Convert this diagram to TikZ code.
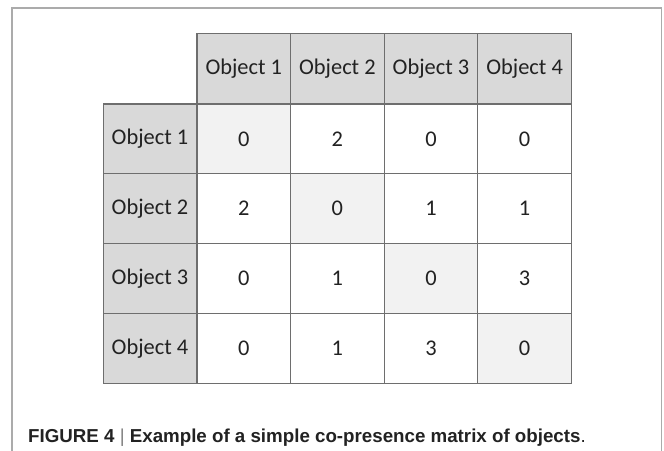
\documentclass[tikz,border=0pt]{standalone}
\usepackage{fontspec}
\setmainfont{Carlito}
\newfontfamily\capfont{Liberation Sans}
\definecolor{headgray}{HTML}{D9D9D9}
\definecolor{diaggray}{HTML}{F2F2F2}
\definecolor{gridgray}{HTML}{6E6E6E}
\definecolor{framegray}{HTML}{ABABAB}
\definecolor{inkgray}{HTML}{222222}
\begin{document}
\begin{tikzpicture}[x=1bp, y=-1bp,
  cell/.style={draw=gridgray, line width=1.3bp, minimum width=93.6bp, minimum height=69.8bp,
    inner sep=0pt, text=inkgray, font=\fontsize{22.5}{27}\selectfont},
  headcell/.style={cell, fill=headgray},
  diagcell/.style={cell, fill=diaggray}]
  \useasboundingbox (0,0) rectangle (664,451);

  \draw (12,451) -- (12,8) -- (661.5,8) -- (661.5,451) [line width=1.5bp, framegray];

  % column and row headers
  \foreach \j in {1,...,4} {
    \node (h-\j) at (197+93.6*\j-46.8, 68.8) [headcell, minimum height=71.2bp] {Object \j};
    \node (r-\j) at (150, 104+69.8*\j-34.9) [headcell] {Object \j};
  }

  % co-presence counts
  \foreach \row [count=\i] in {{0,2,0,0},{2,0,1,1},{0,1,0,3},{0,1,3,0}} {
    \foreach \val [count=\j] in \row {
      \ifnum\i=\j
        \node (c-\i-\j) at (197+93.6*\j-46.8, 104+69.8*\i-34.9) [diagcell] {\val};
      \else
        \node (c-\i-\j) at (197+93.6*\j-46.8, 104+69.8*\i-34.9) [cell, fill=white] {\val};
      \fi
    }
  }

  \node (caption) at (28,442) [anchor=base west, inner sep=0pt, text=inkgray,
    font=\capfont\fontsize{18.8}{22}\selectfont]
    {\textbf{FIGURE 4} {\color{gray}|} \textbf{Example of a simple co-presence matrix of objects}.};
\end{tikzpicture}
\end{document}
